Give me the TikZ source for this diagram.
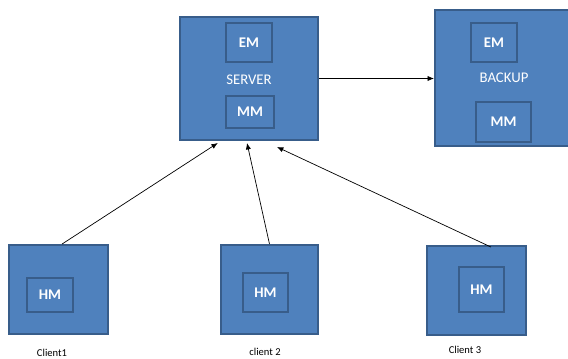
\documentclass[tikz,border=0pt]{standalone}
\usepackage{fontspec}
\setmainfont{Carlito}
\usepackage{tikz}
\usetikzlibrary{positioning,arrows.meta}
\usepackage{xcolor}
\definecolor{boxblue}{HTML}{4F81BD}
\definecolor{edgeblue}{HTML}{385D8A}

\begin{document}
\begin{tikzpicture}[
  x=0.025cm, y=-0.025cm,
  outer/.style={draw=edgeblue, fill=boxblue, line width=1.4pt, inner sep=0pt},
  inner/.style={draw=edgeblue, fill=boxblue, line width=1.6pt, inner sep=0pt, text=white, font=\fontsize{10.5}{12}\selectfont\bfseries},
  title/.style={text=white, inner sep=0pt, font=\fontsize{10.5}{12}\selectfont},
  caption/.style={inner sep=0pt, font=\fontsize{7.5}{9}\selectfont},
  arrow/.style={-{Latex[length=1.6mm,width=1.3mm]}, line width=0.5pt},
]
\useasboundingbox (0,0) rectangle (568,358);

% Server
\node[outer, minimum width=3.45cm, minimum height=3.075cm] (server) at (249,78.5) {};
\node[inner, minimum width=1.15cm, minimum height=0.975cm] (sem) at (249,42.5) {EM};
\node[title] (stitle) at (249,80) {SERVER};
\node[inner, minimum width=1.2cm, minimum height=0.8cm] (smm) at (250,112) {MM};

% Backup
\node[outer, minimum width=3.425cm, minimum height=3.4cm] (backup) at (503.5,78) {};
\node[inner, minimum width=1.15cm, minimum height=0.975cm] (bem) at (494,42.5) {EM};
\node[title] (btitle) at (504,78) {BACKUP};
\node[inner, minimum width=1.375cm, minimum height=1.0cm] (bmm) at (503.5,122) {MM};

% Clients
\node[outer, minimum width=2.475cm, minimum height=2.225cm] (c1) at (58.5,289.5) {};
\node[inner, minimum width=1.15cm, minimum height=0.85cm] (hm1) at (50,295) {HM};
\node[caption] (l1) at (52,353) {Client1};

\node[outer, minimum width=2.425cm, minimum height=2.225cm] (c2) at (269.5,289.5) {};
\node[inner, minimum width=1.125cm, minimum height=0.975cm] (hm2) at (265.5,292.5) {HM};
\node[caption] (l2) at (265,352) {client 2};

\node[outer, minimum width=2.475cm, minimum height=2.225cm] (c3) at (476.5,290.5) {};
\node[inner, minimum width=1.125cm, minimum height=1.125cm] (hm3) at (481.5,289.5) {HM};
\node[caption] (l3) at (465,350) {Client 3};

% Arrows
\draw[arrow] (server.east) -- (server.east -| backup.west);
\draw[arrow] ([xshift=0.09cm]c1.north) -- ([xshift=-0.78cm,yshift=-0.05cm]server.south);
\draw[arrow] (c2.north) -- ([xshift=-0.05cm,yshift=-0.05cm]server.south);
\draw[arrow] ([xshift=0.36cm,yshift=-0.05cm]c3.north) -- ([xshift=0.7cm,yshift=-0.15cm]server.south);

\end{tikzpicture}
\end{document}
